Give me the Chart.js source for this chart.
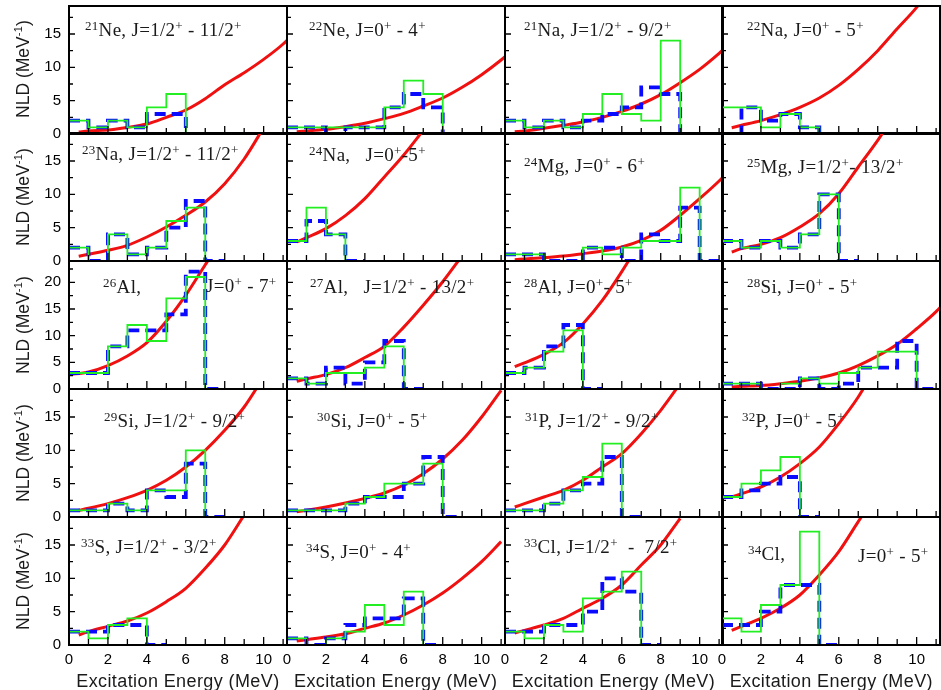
<!DOCTYPE html>
<html>
<head>
<meta charset="utf-8">
<script src="https://cdn.jsdelivr.net/npm/chart.js@4.4.0/dist/chart.umd.min.js"></script>
<style>
  body { margin: 0; background: #fff; width: 941px; height: 690px; position: relative; overflow: hidden; }
  canvas { position: absolute; }
  .ttl { position: absolute; font-family: 'Liberation Serif', 'Times New Roman', serif; font-size: 19px; line-height: 19px; letter-spacing: 0.3px; white-space: pre; color: #1a1a1a; }
  .up { position: relative; top: -6px; font-size: 13px; letter-spacing: 0.3px; }
  .ax { position: absolute; font-family: 'Liberation Sans', Arial, sans-serif; font-size: 18px; line-height: 18px; white-space: pre; color: #1a1a1a; }
  .ax .up { top: -7px; font-size: 11px; }
  .ylab { font-size: 17.5px; }
  .xlab { letter-spacing: 0.4px; }
</style>
</head>
<body>
<script>
// energy grids for the model curves (MeV)
const curveE = [0.5, 1, 2, 3, 4, 5, 6, 7, 8, 9, 10, 11, 12];
const curveE0 = [0, 1, 2, 3, 4, 5, 6, 7, 8];

// level counts per 1 MeV bin, starting at 0 MeV: green = solid, blue = dashed
const ne21Green = [2, 1, 2, 1, 4, 6, 0];
const ne21Blue  = [2, 1, 2, 1, 3, 3, 0];
const ne21Red   = [0.3, 0.45, 0.6, 1.0, 1.5, 2.5, 3.6, 5.3, 7.4, 9.2, 11.2, 13.5, 16.5];

const ne22Green = [1, 1, 1, 1, 1, 4, 8, 6, 0];
const ne22Blue  = [1, 1, 0, 1, 1, 4, 6, 4, 0];
const ne22Red   = [0.35, 0.45, 0.7, 1.1, 1.6, 2.3, 3.1, 4.2, 5.4, 7.0, 8.9, 11.1, 13.6];

const na21Green = [2, 1, 2, 1, 3, 6, 3, 2, 14, 0];
const na21Blue  = [2, 1, 2, 1, 2, 3, 4, 7, 6, 0];
const na21Red   = [0.35, 0.45, 0.85, 1.3, 1.8, 2.5, 3.4, 4.5, 5.9, 7.7, 9.7, 12.1, 14.8];

const na22Green = [4, 4, 1, 3, 1, 0];
const na22Blue  = [0, 4, 2, 3, 1, 0];
const na22Red   = [0.95, 1.3, 2.0, 2.9, 4.0, 5.4, 7.3, 9.7, 12.5, 15.8, 19.0, 23];

const na23Green = [2, 0, 4, 1, 2, 6, 8, 0];
const na23Blue  = [2, 0, 4, 1, 2, 5, 9, 0];
const na23Red   = [0.7, 1.0, 1.6, 2.35, 3.6, 5.1, 6.85, 8.85, 11.6, 15.3, 20];

const na24Green = [3, 8, 4, 0];
const na24Blue  = [3, 6, 4, 0];
const na24Red   = [2.85, 3.5, 4.85, 6.8, 9.35, 12.6, 15.9, 19.6];

const mg24Green = [1, 1, 0, 0, 2, 1, 2, 3, 3, 11, 0];
const mg24Blue  = [1, 1, 0, 0, 2, 2, 0, 4, 3, 8, 0];
const mg24Red   = [0.2, 0.3, 0.5, 0.75, 1.1, 1.5, 2.1, 3.1, 4.6, 6.85, 9.35, 12.0, 15];

const mg25Green = [3, 2, 3, 2, 4, 10, 0];
const mg25Blue  = [3, 2, 3, 2, 4, 10, 0];
const mg25Red   = [1.35, 1.85, 2.5, 3.5, 5.1, 7.1, 10.1, 14.1, 18.1, 22.5];

const al26Green = [3, 3, 8, 12, 9, 17, 21, 0];
const al26Blue  = [3, 3, 8, 11, 11, 14, 22, 0];
const al26Red   = [2.7, 3.2, 4.4, 6.2, 8.7, 12.7, 17.6, 23.3, 29];

const al27Green = [2, 1, 3, 3, 4, 8, 0];
const al27Blue  = [2, 1, 4, 1, 5, 9, 0];
const al27Red   = [1.45, 1.9, 2.7, 4.0, 5.9, 8.0, 11.6, 15.7, 20.1, 25];

const al28Green = [3, 4, 7, 11, 0];
const al28Blue  = [3, 4, 8, 12, 0];
const al28Red   = [4.2, 4.9, 6.5, 8.7, 12.2, 16.6, 22.0, 28];

const si28Green = [1, 1, 0, 1, 2, 1, 3, 4, 7, 7, 0];
const si28Blue  = [1, 1, 0, 0, 2, 0, 1, 4, 4, 9, 0];
const si28Red   = [0.4, 0.5, 0.65, 1.0, 1.45, 2.1, 3.0, 4.4, 6.2, 8.4, 11.3, 14.5, 18.5];

const si29Green = [1, 1, 2, 1, 4, 4, 10, 0];
const si29Blue  = [1, 1, 2, 1, 4, 3, 8, 0];
const si29Red   = [1.0, 1.3, 2.0, 2.9, 4.0, 5.5, 7.5, 10.0, 13.0, 16.5, 21];

const si30Green = [1, 1, 1, 2, 3, 5, 5, 8, 0];
const si30Blue  = [1, 1, 1, 2, 3, 3, 5, 9, 0];
const si30Red   = [0.8, 1.0, 1.5, 2.1, 2.8, 3.6, 4.8, 6.5, 8.7, 11.5, 15, 19];

const p31Green = [1, 1, 2, 4, 6, 11, 0];
const p31Blue  = [1, 1, 2, 4, 5, 9, 0];
const p31Red   = [1.5, 2.0, 3.0, 4.0, 5.5, 7.5, 9.5, 12.5, 16, 20];

const p32Green = [3, 5, 7, 9, 0];
const p32Blue  = [3, 4, 5, 6, 0];
const p32Red   = [3.0, 3.5, 4.5, 6.0, 8.0, 10.5, 14, 18, 23];

const s33Green = [2, 1, 3, 4, 0];
const s33Blue  = [2, 2, 3, 3, 0];
const s33Red   = [1.5, 2.0, 2.8, 3.6, 4.8, 6.5, 8.5, 11.5, 15, 19.5];

const s34Green = [1, 0, 1, 2, 6, 3, 8, 0];
const s34Blue  = [1, 0, 1, 3, 4, 4, 7, 0];
const s34Red   = [0.6, 0.8, 1.2, 1.7, 2.5, 3.3, 4.5, 6.0, 7.8, 10, 12.5, 15.5];

const cl33Green = [2, 1, 3, 2, 7, 8, 11, 0];
const cl33Blue  = [2, 2, 3, 3, 5, 10, 8, 0];
const cl33Red   = [1.8, 2.2, 3.0, 4.0, 5.5, 7.0, 9.0, 12, 15, 19];

const cl34Green = [4, 2, 6, 9, 17, 0];
const cl34Blue  = [3, 3, 5, 9, 9, 0];
const cl34Red   = [2.2, 2.8, 4.0, 5.5, 7.5, 10.5, 14, 18.5, 23];

const panelTitles = [
  '<span class="up">21</span>Ne, J=1/2<span class="up">+</span> - 11/2<span class="up">+</span>',
  '<span class="up">22</span>Ne, J=0<span class="up">+</span> - 4<span class="up">+</span>',
  '<span class="up">21</span>Na, J=1/2<span class="up">+</span> - 9/2<span class="up">+</span>',
  '<span class="up">22</span>Na, J=0<span class="up">+</span> - 5<span class="up">+</span>',
  '<span class="up">23</span>Na, J=1/2<span class="up">+</span> - 11/2<span class="up">+</span>',
  '<span class="up">24</span>Na,   J=0<span class="up">+</span>-5<span class="up">+</span>',
  '<span class="up">24</span>Mg, J=0<span class="up">+</span> - 6<span class="up">+</span>',
  '<span class="up">25</span>Mg, J=1/2<span class="up">+</span>- 13/2<span class="up">+</span>',
  '<span class="up">26</span>Al,',
  '<span class="up">27</span>Al,   J=1/2<span class="up">+</span> - 13/2<span class="up">+</span>',
  '<span class="up">28</span>Al, J=0<span class="up">+</span>- 5<span class="up">+</span>',
  '<span class="up">28</span>Si, J=0<span class="up">+</span> - 5<span class="up">+</span>',
  '<span class="up">29</span>Si, J=1/2<span class="up">+</span> - 9/2<span class="up">+</span>',
  '<span class="up">30</span>Si, J=0<span class="up">+</span> - 5<span class="up">+</span>',
  '<span class="up">31</span>P, J=1/2<span class="up">+</span> - 9/2<span class="up">+</span>',
  '<span class="up">32</span>P, J=0<span class="up">+</span> - 5<span class="up">+</span>',
  '<span class="up">33</span>S, J=1/2<span class="up">+</span> - 3/2<span class="up">+</span>',
  '<span class="up">34</span>S, J=0<span class="up">+</span> - 4<span class="up">+</span>',
  '<span class="up">33</span>Cl, J=1/2<span class="up">+</span>  -  7/2<span class="up">+</span>',
  '<span class="up">34</span>Cl,'
];
// second half of the split titles (26Al, 34Cl)
const extraTitles = [
  {html: 'J=0<span class="up">+</span> - 7<span class="up">+</span>', x: 206, base: 292},
  {html: 'J=0<span class="up">+</span> - 5<span class="up">+</span>', x: 858, base: 562}
];
// title anchor: left edge and text baseline
const titleX = [85, 309, 524, 747, 82, 309, 524, 747, 103, 310, 524, 747, 104, 317, 525, 742, 81, 306, 524, 748];
const titleBase = [36, 36, 36, 36, 160, 161, 172, 173, 293, 293, 293, 293, 427, 427, 427, 427, 553, 558, 553, 560];

const panels = [
  [ne21Green, ne21Blue, ne21Red], [ne22Green, ne22Blue, ne22Red], [na21Green, na21Blue, na21Red], [na22Green, na22Blue, na22Red],
  [na23Green, na23Blue, na23Red], [na24Green, na24Blue, na24Red], [mg24Green, mg24Blue, mg24Red], [mg25Green, mg25Blue, mg25Red],
  [al26Green, al26Blue, al26Red, curveE0], [al27Green, al27Blue, al27Red], [al28Green, al28Blue, al28Red], [si28Green, si28Blue, si28Red],
  [si29Green, si29Blue, si29Red], [si30Green, si30Blue, si30Red], [p31Green, p31Blue, p31Red], [p32Green, p32Blue, p32Red],
  [s33Green, s33Blue, s33Red], [s34Green, s34Blue, s34Red], [cl33Green, cl33Blue, cl33Red], [cl34Green, cl34Blue, cl34Red]
];
const rowMax = [19.2, 19.2, 24, 19.2, 19.2];

// page layout
const colLeft = [69, 286.8, 504.6, 722.4];
const rowTop = [5.5, 133.3, 261.1, 388.9, 516.7];
const panelW = 217.8, panelH = 127.8;
const ML = 62, MT = 4, MR = 4, MB = 34;

// histogram bins -> step line points (bin i covers [i, i+1])
function binPoints(vals) {
  const pts = vals.map((v, i) => ({x: i, y: v}));
  pts.push({x: vals.length, y: vals[vals.length - 1]});
  return pts;
}

// keep the plot area fixed: no extra room for half tick labels
function noPad(s) {
  s.paddingTop = 0;
  s.paddingBottom = 0;
  s.paddingLeft = 0;
  s.paddingRight = 0;
}

const frameTicks = {
  id: 'frameTicks',
  afterDatasetsDraw(chart) {
    const {ctx, chartArea: a, scales: {x, y}} = chart;
    ctx.save();
    ctx.strokeStyle = '#000';
    ctx.lineWidth = 1.3;
    ctx.beginPath();
    for (let e = 1; e <= 11; e++) {
      const px = x.getPixelForValue(e);
      const len = e % 2 === 0 ? 8 : 6;
      ctx.moveTo(px, a.bottom);
      ctx.lineTo(px, a.bottom - len);
    }
    for (let v = 2.5; v < y.max; v += 2.5) {
      const py = y.getPixelForValue(v);
      const len = v % 5 === 0 ? 6 : 4;
      ctx.moveTo(a.left, py);
      ctx.lineTo(a.left + len, py);
    }
    ctx.stroke();
    ctx.lineWidth = 2;
    ctx.strokeRect(a.left, a.top, a.right - a.left, a.bottom - a.top);
    ctx.restore();
  }
};

const tickFont = {family: "'Liberation Sans', Arial, sans-serif", size: 15};

panels.forEach((p, i) => {
  const r = Math.floor(i / 4), c = i % 4;
  const [green, blue, red, grid] = p;
  const cv = document.createElement('canvas');
  cv.width = Math.round(panelW + ML + MR);
  cv.height = Math.round(panelH + MT + MB);
  cv.style.left = (colLeft[c] - ML) + 'px';
  cv.style.top = (rowTop[r] - MT) + 'px';
  document.body.appendChild(cv);

  const E = grid || curveE;
  new Chart(cv, {
    type: 'line',
    data: {
      datasets: [
        {data: binPoints(green), borderColor: '#22ee22', borderWidth: 1.8, stepped: true, pointRadius: 0},
        {data: binPoints(blue), borderColor: '#0a0aff', borderWidth: 3.8, borderDash: [11, 6], stepped: true, pointRadius: 0},
        {data: red.map((v, k) => ({x: E[k], y: v})), borderColor: '#f01010', borderWidth: 3, cubicInterpolationMode: 'monotone', pointRadius: 0}
      ]
    },
    options: {
      responsive: false,
      animation: false,
      events: [],
      layout: {padding: {top: MT, right: MR, left: 0, bottom: 0}},
      plugins: {legend: {display: false}, tooltip: {enabled: false}},
      scales: {
        x: {
          type: 'linear', min: 0, max: 11.2,
          grid: {display: false, drawTicks: false}, border: {display: false},
          ticks: {display: r === 4, stepSize: 2, includeBounds: false, maxRotation: 0, autoSkip: false, padding: 6, color: '#000', font: tickFont},
          afterFit(s) { s.height = MB; noPad(s); }
        },
        y: {
          min: 0, max: rowMax[r],
          grid: {display: false, drawTicks: false}, border: {display: false},
          ticks: {display: c === 0, stepSize: 5, includeBounds: false, padding: 8, color: '#000', font: tickFont},
          afterFit(s) { s.width = ML; noPad(s); }
        }
      }
    },
    plugins: [frameTicks]
  });

  const t = document.createElement('div');
  t.className = 'ttl';
  t.innerHTML = panelTitles[i];
  t.style.left = titleX[i] + 'px';
  t.style.top = (titleBase[i] - 16) + 'px';
  document.body.appendChild(t);
});

extraTitles.forEach(e => {
  const t = document.createElement('div');
  t.className = 'ttl';
  t.innerHTML = e.html;
  t.style.left = e.x + 'px';
  t.style.top = (e.base - 16) + 'px';
  document.body.appendChild(t);
});

// axis titles
rowTop.forEach(top => {
  const d = document.createElement('div');
  d.className = 'ax ylab';
  d.innerHTML = 'NLD (MeV<span class="up">-1</span>)';
  d.style.left = '24px';
  d.style.top = (top + panelH / 2) + 'px';
  d.style.transform = 'translate(-50%, -50%) rotate(-90deg)';
  document.body.appendChild(d);
});
colLeft.forEach(left => {
  const d = document.createElement('div');
  d.className = 'ax xlab';
  d.textContent = 'Excitation Energy (MeV)';
  d.style.left = (left + panelW / 2) + 'px';
  d.style.top = '672px';
  d.style.transform = 'translate(-50%, 0)';
  document.body.appendChild(d);
});
</script>
</body>
</html>
